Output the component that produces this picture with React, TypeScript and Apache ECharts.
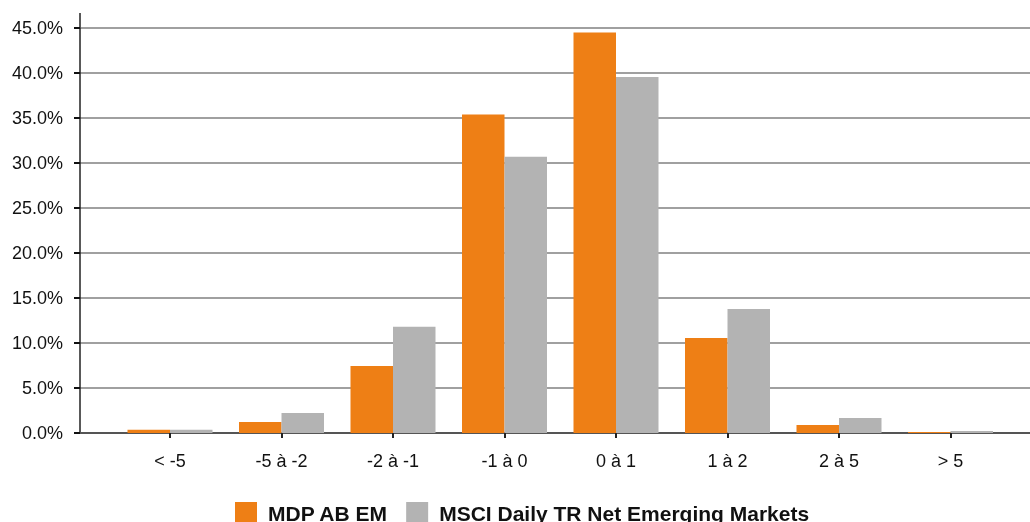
import React, { useEffect, useRef } from "react";
import * as echarts from "echarts";

const categories = ["< -5", "-5 à -2", "-2 à -1", "-1 à 0", "0 à 1", "1 à 2", "2 à 5", "> 5"];
const mdpValues = [0.37, 1.22, 7.44, 35.4, 44.5, 10.55, 0.89, 0.11];
const msciValues = [0.37, 2.22, 11.8, 30.7, 39.55, 13.78, 1.67, 0.22];
const seriesNames = ["MDP AB EM", "MSCI Daily TR Net Emerging Markets"];
const yTicks = { min: 0, max: 45, interval: 5 };

const FONT = "'Liberation Sans', Arial, sans-serif";

export default function App() {
  const ref = useRef<HTMLDivElement>(null);
  useEffect(() => {
    if (!ref.current) return;
    const chart = echarts.init(ref.current, undefined, { renderer: "svg" });
    chart.setOption({
      animation: false,
      textStyle: { fontFamily: FONT },
      grid: [
        { left: 114.25, right: 23.75, top: 28, bottom: 89 },
        { left: 80, right: 0, top: 28, bottom: 89 },
      ],
      legend: {
        left: 235,
        top: 502,
        padding: 0,
        itemWidth: 22,
        itemHeight: 22,
        itemGap: 18,
        icon: "rect",
        textStyle: { fontFamily: FONT, fontSize: 21, fontWeight: "bold", color: "#111", padding: [0, 0, 0, 6] },
        data: seriesNames,
      },
      xAxis: [
        {
          type: "category",
          gridIndex: 0,
          data: categories,
          axisLine: { show: false },
          axisTick: { show: true, alignWithLabel: true, length: 5, lineStyle: { color: "#222", width: 2 } },
          axisLabel: { fontFamily: FONT, fontSize: 18, color: "#111", margin: 19 },
        },
        {
          type: "category",
          gridIndex: 1,
          data: categories,
          axisLine: { show: true, lineStyle: { color: "#555", width: 2 } },
          axisTick: { show: false },
          axisLabel: { show: false },
        },
      ],
      yAxis: [
        { type: "value", gridIndex: 0, min: yTicks.min, max: yTicks.max, interval: yTicks.interval, show: false },
        {
          type: "value",
          gridIndex: 1,
          min: yTicks.min,
          max: yTicks.max,
          interval: yTicks.interval,
          axisLine: { show: true, lineStyle: { color: "#222", width: 1.5 } },
          axisTick: { show: true, length: 6, lineStyle: { color: "#111", width: 2 } },
          axisLabel: {
            fontFamily: FONT,
            fontSize: 18,
            color: "#111",
            margin: 17,
            formatter: (v: number) => v.toFixed(1) + "%",
          },
          splitLine: { show: true, lineStyle: { color: "#808080", width: 1.5 } },
        },
      ],
      series: [
        {
          name: seriesNames[0],
          type: "bar",
          xAxisIndex: 0,
          yAxisIndex: 0,
          data: mdpValues,
          barWidth: 42.5,
          barGap: "0%",
          itemStyle: { color: "#EE7F15" },
        },
        {
          name: seriesNames[1],
          type: "bar",
          xAxisIndex: 0,
          yAxisIndex: 0,
          data: msciValues,
          barWidth: 42.5,
          barGap: "0%",
          itemStyle: { color: "#B3B3B3" },
        },
      ],
      graphic: [
        {
          type: "line",
          shape: { x1: 80, y1: 13, x2: 80, y2: 28 },
          style: { stroke: "#222", lineWidth: 1.5 },
        },
      ],
    });
    return () => chart.dispose();
  }, []);
  return <div ref={ref} style={{ position: "fixed", left: 0, top: 0, width: 1030, height: 522 }} />;
}
